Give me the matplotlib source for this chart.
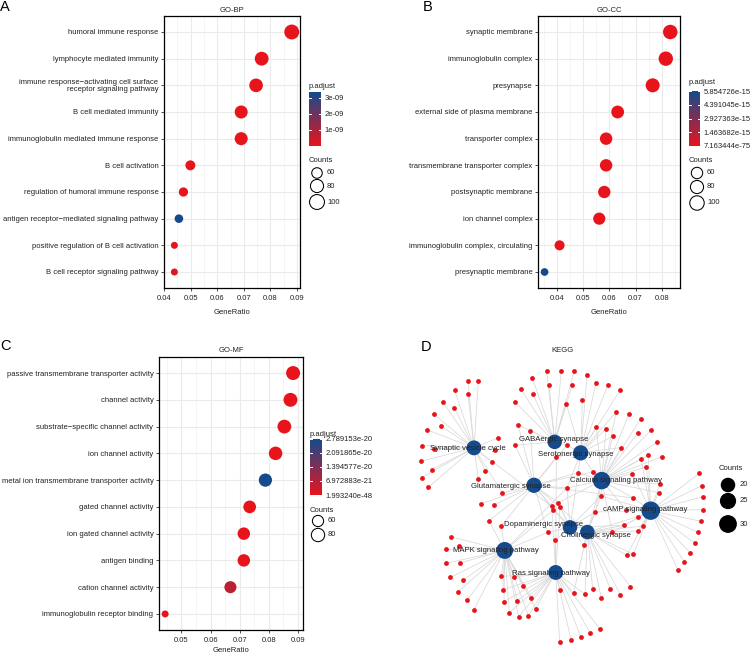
import numpy as np
import matplotlib
matplotlib.use("Agg")
import matplotlib.pyplot as plt
from matplotlib.colors import LinearSegmentedColormap, Normalize
from matplotlib.cm import ScalarMappable
from matplotlib.collections import LineCollection
from matplotlib.ticker import MultipleLocator

plt.rcParams.update({"font.family": ["Liberation Sans", "DejaVu Sans"],
                     "font.size": 5.5, "axes.linewidth": 0.9})

# ---------------- data ----------------
bp_terms = ["humoral immune response", "lymphocyte mediated immunity",
            "immune response\u2212activating cell surface\nreceptor signaling pathway",
            "B cell mediated immunity", "immunoglobulin mediated immune response",
            "B cell activation", "regulation of humoral immune response",
            "antigen receptor\u2212mediated signaling pathway",
            "positive regulation of B cell activation", "B cell receptor signaling pathway"]
bp_ratio = [0.0880, 0.0767, 0.0746, 0.0690, 0.0690, 0.0499, 0.0473, 0.0456, 0.0439, 0.0439]
bp_count = [100, 87, 85, 79, 79, 57, 54, 52, 50, 50]
bp_padj = [2.4e-14, 6.1e-13, 1.7e-12, 2.2e-12, 3.0e-12, 2.4e-11, 6.3e-11, 3.37e-09, 9.8e-11, 1.3e-10]
bp_cbar_ticks = [1e-09, 2e-09, 3e-09]

cc_terms = ["synaptic membrane", "immunoglobulin complex", "presynapse",
            "external side of plasma membrane", "transporter complex",
            "transmembrane transporter complex", "postsynaptic membrane",
            "ion channel complex", "immunoglobulin complex, circulating",
            "presynaptic membrane"]
cc_ratio = [0.0832, 0.0815, 0.0765, 0.0632, 0.0588, 0.0588, 0.0581, 0.0562, 0.0411, 0.0354]
cc_count = [101, 99, 93, 76, 71, 71, 70, 68, 50, 43]
cc_padj = [7.163444e-75, 3.2e-60, 1.1e-40, 4.5e-35, 2.0e-28, 5.1e-28, 8.7e-25, 3.3e-22,
           1.2e-20, 5.854726e-15]
cc_cbar_ticks = [7.163444e-75, 1.463682e-15, 2.927363e-15, 4.391045e-15, 5.854726e-15]

mf_terms = ["passive transmembrane transporter activity", "channel activity",
            "substrate\u2212specific channel activity", "ion channel activity",
            "metal ion transmembrane transporter activity", "gated channel activity",
            "ion gated channel activity", "antigen binding", "cation channel activity",
            "immunoglobulin receptor binding"]
mf_ratio = [0.0883, 0.0874, 0.0853, 0.0823, 0.0788, 0.0734, 0.0714, 0.0714, 0.0668, 0.0444]
mf_count = [88, 87, 85, 82, 79, 73, 71, 71, 67, 44]
mf_padj = [1.993240e-48, 4.1e-47, 2.2e-45, 6.5e-42, 2.789153e-20, 3.8e-36, 1.2e-33,
           5.0e-30, 5.9e-21, 1.4e-24]
mf_cbar_ticks = [1.993240e-48, 6.972883e-21, 1.394577e-20, 2.091865e-20, 2.789153e-20]

# KEGG cnet: hubs (pathways) and genes in layout units
hub_names = ["Synaptic vesicle cycle", "GABAergic synapse", "Serotonergic synapse",
             "Glutamatergic synapse", "Calcium signaling pathway", "cAMP signaling pathway",
             "Dopaminergic synapse", "Cholinergic synapse", "MAPK signaling pathway",
             "Ras signaling pathway"]
hub_key = ["SVC", "GABA", "SERO", "GLU", "CA", "CAMP", "DA", "ACH", "MAPK", "RAS"]
hub_x = [295, 537, 615, 475, 678, 825, 583, 635, 387, 540]
hub_y = [360, 342, 375, 472, 458, 548, 598, 612, 667, 733]
hub_count = [21, 20, 22, 22, 29, 32, 20, 20, 27, 21]

gene_x = [277, 308, 237, 277, 202, 236, 176, 196, 154, 138, 174, 136, 168, 139, 158, 367, 359, 348, 328, 308,
          513, 557, 596, 470, 520, 590, 435, 472, 418, 427, 464, 418,
          634, 661, 697, 733, 620, 572, 722, 662, 691, 712, 574, 736,
          760, 795, 786, 826, 843, 818, 858, 796, 812, 770, 652, 608, 852, 849,
          971, 979, 982, 981, 976, 968, 957, 943, 926, 907, 786, 803, 786, 745, 751, 773, 676,
          380, 315, 354, 542, 574,
          226, 250, 210, 254, 212, 224, 263, 247, 274, 294, 340, 377, 377, 382, 385, 401,
          414, 441, 467, 425, 480, 429, 458, 552, 594, 628, 552, 586, 615, 644, 672,
          651, 677, 704, 734, 764, 753, 773, 710, 624, 659, 639,
          516, 539, 528, 548, 533, 553]
gene_y = [160, 160, 188, 200, 222, 240, 260, 295, 306, 353, 362, 400, 425, 449, 478, 330, 366, 401, 428, 452,
          130, 130, 130, 150, 171, 172, 183, 200, 223, 291, 309, 352,
          143, 165, 172, 188, 218, 229, 252, 299, 303, 325, 352, 359,
          259, 273, 316, 307, 343, 382, 386, 393, 417, 438, 432, 434, 468, 494,
          436, 473, 506, 545, 580, 613, 645, 674, 701, 726, 566, 594, 609, 592, 545, 510, 504,
          495, 528, 532, 387, 480,
          626, 654, 664, 704, 705, 748, 756, 791, 816, 846, 578, 594, 745, 784, 820, 853,
          746, 773, 808, 817, 841, 865, 862, 784, 794, 798, 941, 934, 925, 915, 901,
          782, 810, 782, 799, 775, 682, 679, 613, 652, 552, 599,
          613, 637, 535, 524, 546, 538]
gene_links = (["SVC"] * 20
              + ["GABA"] * 9 + ["GABA GLU"] * 3
              + ["SERO"] * 5 + ["SERO GABA", "SERO CA", "SERO CA", "SERO CA", "SERO CA",
                                "SERO GABA GLU", "SERO CA"]
              + ["CA"] * 5 + ["CA CAMP", "CA", "CA CAMP", "CA CAMP", "CA CAMP", "CA SERO GLU",
                              "SERO CA GLU DA", "CA CAMP", "CA CAMP"]
              + ["CAMP"] * 10 + ["CAMP ACH", "CAMP ACH", "CAMP ACH", "CAMP ACH DA", "CAMP CA",
                                 "CAMP CA GLU", "CA CAMP DA ACH"]
              + ["GLU SVC", "GLU", "GLU", "GLU GABA SERO RAS", "GLU CA SERO DA MAPK"]
              + ["MAPK"] * 10 + ["MAPK GLU", "MAPK GLU"] + ["MAPK RAS"] * 4
              + ["RAS MAPK"] * 7 + ["RAS", "RAS ACH", "RAS ACH"] + ["RAS"] * 5
              + ["ACH"] * 5 + ["ACH CAMP", "ACH CAMP", "ACH CAMP CA", "ACH DA", "ACH DA CA CAMP",
                               "ACH DA CA"]
              + ["DA MAPK GLU", "DA RAS", "DA GLU SVC RAS", "DA GLU CA", "DA GLU MAPK",
                 "DA GLU ACH RAS"])
kegg_legend_counts = [20, 25, 30]

# ---------------- layout helpers ----------------
W, H = 753, 656
fig = plt.figure(figsize=(W / 100, H / 100), dpi=100)
RED, NAVY = "#E8141C", "#154A8C"
cmap = LinearSegmentedColormap.from_list("padj", [RED, NAVY])
TXT = "#222222"


def px_axes(l, t, r, b):
    return fig.add_axes([l / W, 1 - b / H, (r - l) / W, (b - t) / H])


def dot_area(c, cmin, cmax, dmin, dmax):
    """ggplot-like area scale -> matplotlib scatter size (pt^2)."""
    c = np.asarray(c, dtype=float)
    d = dmin + (dmax - dmin) * np.sqrt(np.clip((c - cmin) / (cmax - cmin), 0, None))
    return (d * 0.72) ** 2


def dotplot(box, terms, ratio, count, padj, xlim, xticks, srange, cbox, cticks, clabels,
            leg_counts, leg_x, leg_y, title, ov, cb_title_y, cnt_title_y, xlab_gap=25):
    ax = px_axes(*box)
    n = len(terms)
    ypos = np.arange(n)
    norm = Normalize(min(padj), max(padj))
    ax.set_axisbelow(True)
    ax.grid(True, which="major", color="#EBEBEB", lw=0.8)
    ax.grid(True, which="minor", axis="x", color="#F2F2F2", lw=0.5)
    ax.scatter(ratio, ypos, s=dot_area(count, *srange), c=padj, cmap=cmap, norm=norm,
               linewidths=0, zorder=3)
    ax.set_xlim(*xlim)
    ax.set_ylim(n - 0.4, -0.6)
    ax.set_xticks(xticks)
    ax.set_xticklabels([f"{t:.2f}" for t in xticks])
    ax.xaxis.set_minor_locator(MultipleLocator(0.005))
    ax.set_yticks(ypos)
    ax.set_yticklabels(terms, linespacing=0.9)
    ax.tick_params(which="major", length=2.2, width=0.6, color="#333333", labelsize=5.5,
                   labelcolor=TXT)
    ax.tick_params(axis="x", pad=3)
    ax.tick_params(axis="y", pad=1.8)
    ax.tick_params(which="minor", length=0)
    for sp in ax.spines.values():
        sp.set_color("black")
    # title and x label
    cx = (box[0] + box[2]) / 2
    ov.text(cx, box[1] - 6, title, ha="center", va="center", fontsize=5.5, color=TXT)
    ov.text(cx, box[3] + xlab_gap, "GeneRatio", ha="center", va="center", fontsize=5.5,
            color=TXT)

    # colorbar
    cax = px_axes(*cbox)
    cb = fig.colorbar(ScalarMappable(norm=norm, cmap=cmap), cax=cax, ticks=cticks)
    cb.outline.set_visible(False)
    cax.set_yticklabels(clabels)
    cax.tick_params(length=0, labelsize=5.5, pad=2.5, labelcolor=TXT)
    for t in cticks:
        cax.axhline(t, xmin=0, xmax=0.2, color="white", lw=0.7)
        cax.axhline(t, xmin=0.8, xmax=1, color="white", lw=0.7)
    ov.text(cbox[0], cb_title_y, "p.adjust", ha="left", va="center", fontsize=5.5, color=TXT)

    # size legend
    ov.text(cbox[0], cnt_title_y, "Counts", ha="left", va="center", fontsize=5.5, color=TXT)
    ov.scatter([leg_x] * len(leg_counts), leg_y, s=dot_area(leg_counts, *srange),
               facecolors="white", edgecolors="black", linewidths=0.75)
    for c, y in zip(leg_counts, leg_y):
        ov.text(leg_x + 10, y, str(c), ha="left", va="center", fontsize=5.5, color=TXT)
    return ax


# overlay axes in pixel units for titles, letters and legends
ov = fig.add_axes([0, 0, 1, 1], zorder=10)
ov.set_xlim(0, W)
ov.set_ylim(H, 0)
ov.axis("off")
ov.patch.set_alpha(0)

dotplot((164, 16, 300, 288), bp_terms, bp_ratio, bp_count, bp_padj, (0.0400, 0.0911),
        [0.04, 0.05, 0.06, 0.07, 0.08, 0.09], (50, 101, 7, 15),
        (309, 92, 321, 146), bp_cbar_ticks, [f"{v:.0e}" for v in bp_cbar_ticks],
        [60, 80, 100], 317, [173, 186, 202], "GO-BP", ov, 87, 161)

dotplot((538, 16, 680, 288), cc_terms, cc_ratio, cc_count, cc_padj, (0.0329, 0.0869),
        [0.04, 0.05, 0.06, 0.07, 0.08], (43, 101, 7.7, 14.5),
        (689, 91, 700, 146), cc_cbar_ticks, [f"{v:.6e}" for v in cc_cbar_ticks],
        [60, 80, 100], 697, [173, 187, 203], "GO-CC", ov, 83, 161)

dotplot((159, 357, 303, 630), mf_terms, mf_ratio, mf_count, mf_padj, (0.0423, 0.0917),
        [0.05, 0.06, 0.07, 0.08, 0.09], (44, 88, 7, 14),
        (310, 439, 322, 495), mf_cbar_ticks, [f"{v:.6e}" for v in mf_cbar_ticks],
        [60, 80], 318, [521, 535], "GO-MF", ov, 434, 510, xlab_gap=21)

# ---------------- KEGG network ----------------
axd = px_axes(409, 361, 709, 655)
axd.set_xlim(100, 1000)
axd.set_ylim(980, 100)
axd.axis("off")
segs = []
for gx, gy, links in zip(gene_x, gene_y, gene_links):
    for k in links.split():
        h = hub_key.index(k)
        segs.append([(gx, gy), (hub_x[h], hub_y[h])])
axd.add_collection(LineCollection(segs, colors="#D8D8D8", linewidths=0.55, zorder=1))
axd.scatter(gene_x, gene_y, s=(4.8 * 0.72) ** 2, color=RED, linewidths=0, zorder=2)


def hub_area(c):
    return (3.25 * np.sqrt(np.asarray(c, dtype=float)) * 0.72) ** 2


axd.scatter(hub_x, hub_y, s=hub_area(hub_count), color=NAVY, linewidths=0, zorder=3)
label_dx = [-18, -2, -15, -70, 42, -15, -80, 26, -27, -15]
label_dy = [3, -7, 5, 3, 0, -3, -8, 10, 1, 2]
for name, x, y, dx, dy in zip(hub_names, hub_x, hub_y, label_dx, label_dy):
    axd.text(x + dx, y + dy, name, ha="center", va="center", fontsize=5.6, color=TXT, zorder=4)

ov.text(563, 351, "KEGG", ha="center", va="center", fontsize=5.5, color=TXT)
ov.text(719, 469, "Counts", ha="left", va="center", fontsize=5.5, color=TXT)
ov.scatter([728] * 3, [485, 501, 524], s=hub_area(kegg_legend_counts), color="black",
           linewidths=0)
for c, y in zip(kegg_legend_counts, [485, 501, 524]):
    ov.text(740, y, str(c), ha="left", va="center", fontsize=5.5, color=TXT)

# panel letters
for letter, x, y in [("A", 5, 7), ("B", 428, 7), ("C", 6, 346), ("D", 426, 347)]:
    ov.text(x, y, letter, ha="center", va="center", fontsize=10.5, color="black")

fig.savefig("out.png", dpi=100)
